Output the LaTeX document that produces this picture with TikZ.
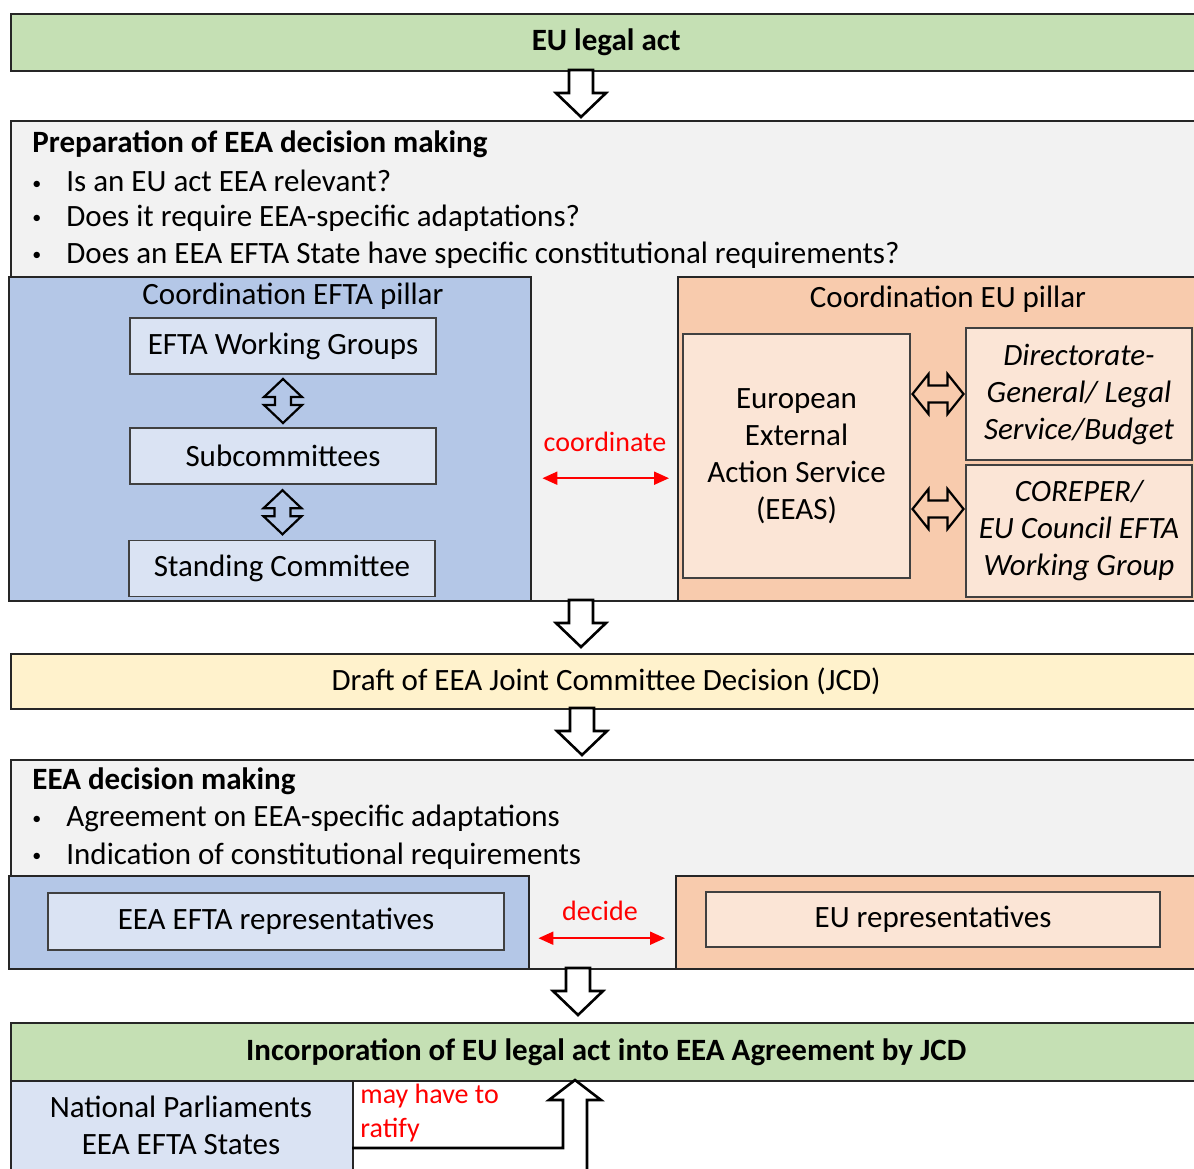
\documentclass[tikz,border=0pt]{standalone}
\usepackage{fontspec}
\setmainfont{Carlito}
\usetikzlibrary{arrows.meta,calc}

\definecolor{actgreen}{HTML}{C5E0B4}
\definecolor{prepgray}{HTML}{F2F2F2}
\definecolor{eftablue}{HTML}{B4C7E7}
\definecolor{eftalight}{HTML}{DAE3F3}
\definecolor{euorange}{HTML}{F8CBAD}
\definecolor{eulight}{HTML}{FBE5D6}
\definecolor{draftyellow}{HTML}{FFF2CC}
\definecolor{arrred}{HTML}{FF0000}

\newcommand{\boxfont}{\fontsize{15.5}{18.5}\selectfont}
\newcommand{\redfont}{\fontsize{14}{17}\selectfont}
\newcommand{\bul}{\makebox[17pt][l]{\raisebox{1.3pt}{\small•}}}

\tikzset{
  box/.style={draw=black!85, line width=1.2pt, anchor=north west, inner sep=0pt},
  inbox/.style={draw=black!75, line width=0.65pt, fill=eftalight, inner sep=0pt,
    minimum width=153pt, minimum height=28pt},
  bullet/.style={anchor=west, inner sep=0pt},
  redlabel/.style={arrred, font=\redfont},
  blockline/.style={draw=black, line width=1.3pt, line join=miter},
  redarr/.style={arrred, line width=1pt,
    {Triangle[length=7.5pt,width=6.5pt]}-{Triangle[length=7.5pt,width=6.5pt]}},
  downarr/.pic={\draw[blockline, fill=white] (-12,0) -- (-12,23) -- (-25,23) -- (0,47)
    -- (25,23) -- (12,23) -- (12,0) -- cycle;},
  vdarr/.pic={\draw[blockline, line width=1.1pt] (0,-22) -- (19,-4) -- (8,-4) -- (8,4) -- (19,4)
    -- (0,22) -- (-19,4) -- (-8,4) -- (-8,-4) -- (-19,-4) -- cycle;},
  hdarr/.pic={\draw[blockline, line width=1.1pt] (-25.5,0) -- (-9.5,-20) -- (-9.5,-8.5) -- (9.5,-8.5)
    -- (9.5,-20) -- (25.5,0) -- (9.5,20) -- (9.5,8.5) -- (-9.5,8.5) -- (-9.5,20) -- cycle;}
}

\begin{document}
\begin{tikzpicture}[x=0.5pt,y=-0.5pt,every node/.style={font=\boxfont}]
\useasboundingbox (0,0) rectangle (1194,1168);
\fill[white] (0,0) rectangle (1194,1168);
\clip (0,0) rectangle (1194,1168);

% EU legal act
\node[box, fill=actgreen, minimum width=595pt, minimum height=28.5pt,
  font=\boxfont\bfseries] (act) at (10,13) {EU legal act};
\pic at (581,70) {downarr};

% preparation
\node[box, fill=prepgray, minimum width=595pt, minimum height=240pt] (prep) at (10,120) {};
\node[bullet, font=\boxfont\bfseries] (prept) at (32,144) {Preparation of EEA decision making};
\foreach \txt [count=\i] in {Is an EU act EEA relevant?, Does it require EEA-specific adaptations?,
  Does an EEA EFTA State have specific constitutional requirements?}
  \node[bullet] (q\i) at (32,{144+37*\i}) {\bul\txt};

% EFTA pillar
\node[box, fill=eftablue, minimum width=261pt, minimum height=162pt] (eftap) at (8,276) {};
\node (eftat) at (293,296) {Coordination EFTA pillar};
\node[inbox] (wg) at (283,346) {EFTA Working Groups};
\node[inbox] (sub) at (283,456) {Subcommittees};
\node[inbox] (stand) at (282,568.5) {Standing Committee};
\pic at ($(wg.south)!0.5!(sub.north)$) {vdarr};
\pic at ($(sub.south)!0.5!(stand.north)$) {vdarr};

% EU pillar
\node[box, fill=euorange, minimum width=261.5pt, minimum height=162pt] (eupil) at (677,276) {};
\node (eut) at (948,299) {Coordination EU pillar};
\node[inbox, fill=eulight, minimum width=113.5pt, minimum height=122pt, align=center] (eeas)
  at (796.5,456) {European\\External\\Action Service\\(EEAS)};
\node[inbox, fill=eulight, minimum width=113pt, minimum height=66pt, align=center,
  font=\boxfont\itshape] (dg) at (1079,394) {Directorate-\\General/ Legal\\Service/Budget};
\node[inbox, fill=eulight, minimum width=113pt, minimum height=66pt, align=center,
  font=\boxfont\itshape] (corep) at (1079,531) {COREPER/\\EU Council EFTA\\Working Group};
\pic at ($(eeas.east |- dg.west)!0.5!(dg.west)$) {hdarr};
\pic at (938,509) {hdarr};

% coordinate
\node[redlabel] (coord) at (605,442) {coordinate};
\draw[redarr, shorten <=5pt, shorten >=4pt] ([yshift=-19.5pt]eftap.east) -- ([yshift=-19.5pt]eupil.west);

\pic at (581,600) {downarr};

% draft
\node[box, fill=draftyellow, minimum width=595pt, minimum height=27.5pt] (draft) at (10,653)
  {Draft of EEA Joint Committee Decision (JCD)};
\pic at (582,708) {downarr};

% decision making
\node[box, fill=prepgray, minimum width=595pt, minimum height=104.5pt] (dec) at (10,759) {};
\node[bullet, font=\boxfont\bfseries] (dect) at (32,781) {EEA decision making};
\foreach \txt [count=\i] in {Agreement on EEA-specific adaptations, Indication of constitutional requirements}
  \node[bullet] (a\i) at (32,{781+37.5*\i}) {\bul\txt};

\node[box, fill=eftablue, minimum width=260pt, minimum height=46.5pt] (eftar) at (8,875) {};
\node[inbox, minimum width=228pt, minimum height=28.5pt] (eftarep) at (276,921.5) {EEA EFTA representatives};
\node[box, fill=euorange, minimum width=262.5pt, minimum height=46.5pt] (eur) at (675,875) {};
\node[inbox, fill=eulight, minimum width=227pt, minimum height=27.5pt] (eurep) at (933,919.5) {EU representatives};

% decide
\node[redlabel] (decide) at (600,911) {decide};
\draw[redarr, shorten <=4pt, shorten >=5pt] ([yshift=-7.75pt]eftar.east) -- ([yshift=-7.75pt]eur.west);

\pic at (578,968) {downarr};

% incorporation
\node[box, fill=actgreen, minimum width=595pt, minimum height=29pt,
  font=\boxfont\bfseries] (inc) at (10,1022) {Incorporation of EU legal act into EEA Agreement by JCD};
\node[box, fill=eftalight, line width=0.9pt, minimum width=171pt, minimum height=60pt] (natp) at (10,1080) {};
\node[align=center] (natpt) at (181,1125.5) {National Parliaments\\EEA EFTA States};
\node[redlabel, anchor=north west, align=left, inner sep=0pt]
  (ratify) at (360,1084) {may have to\\ratify};
\draw[blockline] (352,1148) -- (563,1148) -- (563,1100) -- (549,1100) -- (575,1080)
  -- (601,1100) -- (587,1100) -- (587,1180);
\end{tikzpicture}
\end{document}
